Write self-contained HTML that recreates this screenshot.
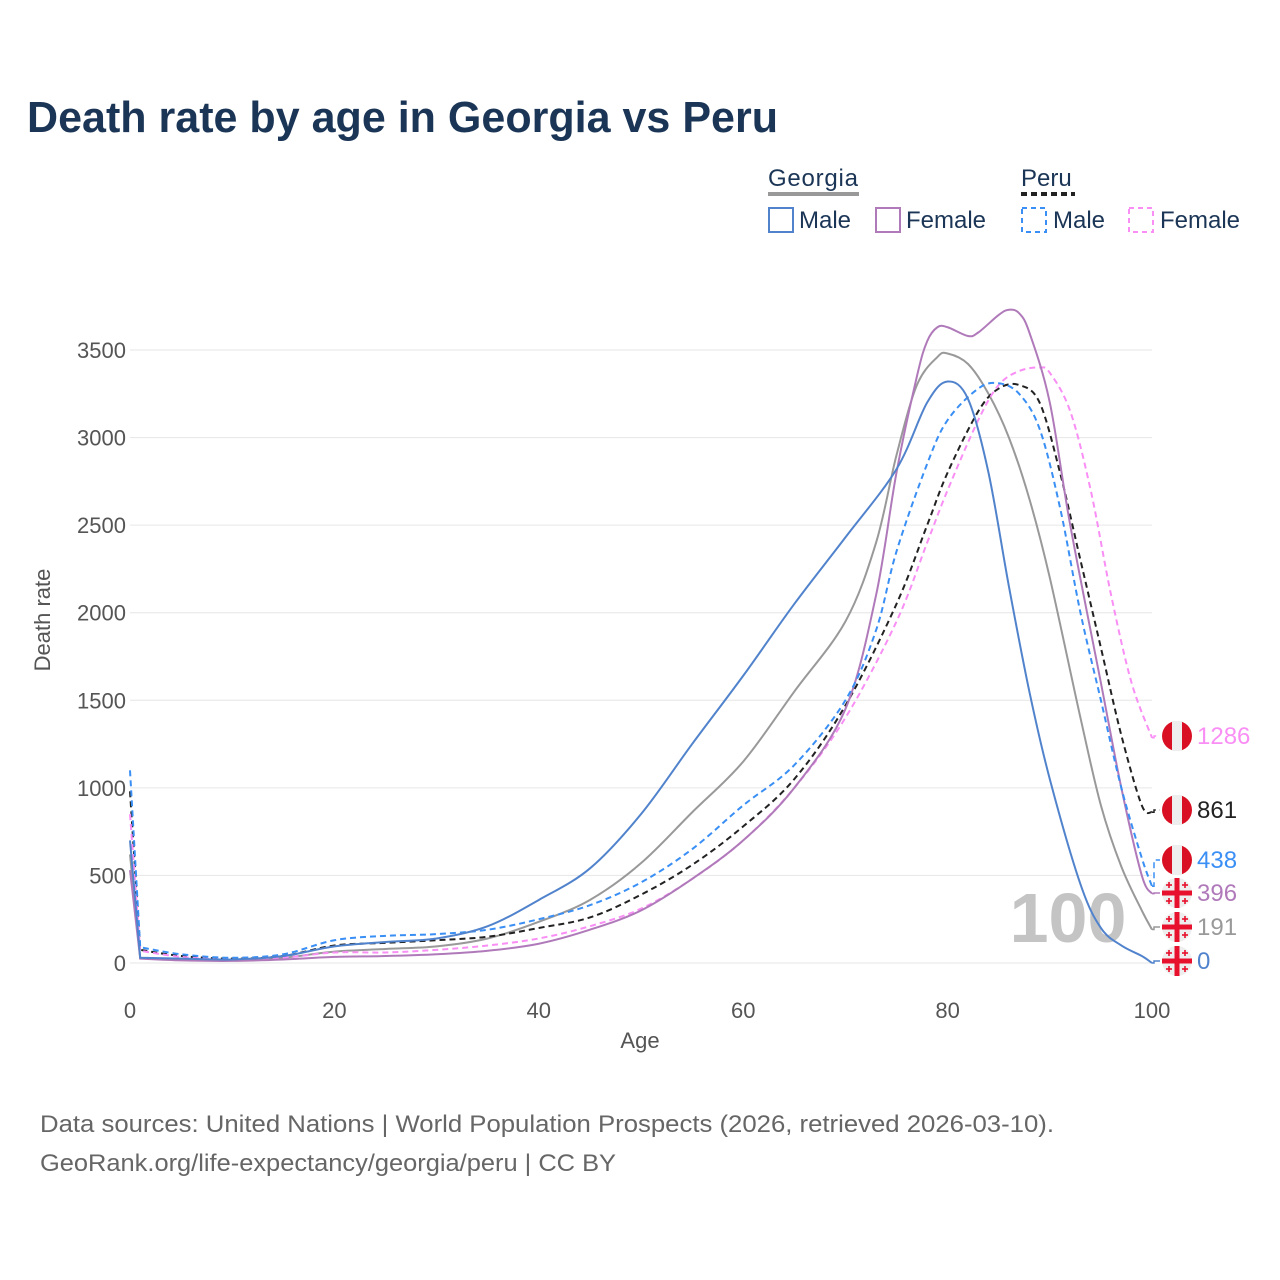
<!DOCTYPE html>
<html><head><meta charset="utf-8">
<style>
body{margin:0;background:#fff;}
svg{display:block;font-family:"Liberation Sans",sans-serif;}
</style></head>
<body>
<svg id="chart" width="1280" height="1280" viewBox="0 0 1280 1280">
<text x="27" y="132" font-size="44" font-weight="bold" fill="#1b3556" textLength="751" lengthAdjust="spacingAndGlyphs">Death rate by age in Georgia vs Peru</text>
<g>
<text x="768" y="186" font-size="24" fill="#1b3556" textLength="90">Georgia</text>
<rect x="768" y="192" width="91" height="4" fill="#999"/>
<text x="1021" y="186" font-size="24" fill="#1b3556">Peru</text>
<line x1="1021" y1="194" x2="1075" y2="194" stroke="#222" stroke-width="4" stroke-dasharray="6,4"/>
<rect x="769" y="208" width="24" height="24" fill="none" stroke="#5183cc" stroke-width="2"/>
<text x="799" y="228" font-size="24" fill="#1b3556">Male</text>
<rect x="876" y="208" width="24" height="24" fill="none" stroke="#b07aba" stroke-width="2"/>
<text x="906" y="228" font-size="24" fill="#1b3556">Female</text>
<rect x="1022" y="208" width="24" height="24" fill="none" stroke="#3a8ff5" stroke-width="2" stroke-dasharray="5,4"/>
<text x="1053" y="228" font-size="24" fill="#1b3556">Male</text>
<rect x="1129" y="208" width="24" height="24" fill="none" stroke="#f98ef5" stroke-width="2" stroke-dasharray="5,4"/>
<text x="1160" y="228" font-size="24" fill="#1b3556">Female</text>
</g>
<g id="grid"></g>
<text x="1068" y="942" font-size="70" font-weight="bold" fill="#c4c4c4" text-anchor="middle">100</text>
<g id="lines"></g>
<g id="labels"></g>
<text x="640" y="1048" font-size="22" fill="#555" text-anchor="middle">Age</text>
<text transform="translate(50,620) rotate(-90)" font-size="22" fill="#555" text-anchor="middle">Death rate</text>
<text x="40" y="1132" font-size="24" fill="#666" textLength="1014" lengthAdjust="spacingAndGlyphs">Data sources: United Nations | World Population Prospects (2026, retrieved 2026-03-10).</text>
<text x="40" y="1171" font-size="24" fill="#666" textLength="576" lengthAdjust="spacingAndGlyphs">GeoRank.org/life-expectancy/georgia/peru | CC BY</text>
</svg>
<script>
const xTicks=[0,20,40,60,80,100];
const yTicks=[0,500,1000,1500,2000,2500,3000,3500];
const gmAges=[0,1,5,10,15,20,25,30,35,40,45,50,55,60,65,70,75,78,80,82,84,86,88,90,93,95,97,99,100];
const gmVals=[700,30,25,20,40,95,120,140,210,360,540,850,1250,1640,2050,2430,2820,3200,3320,3220,2800,2150,1550,1050,450,200,100,40,0];
const gfAges=[0,1,5,10,15,20,25,30,35,40,45,50,55,60,65,70,73,75,77,78,79,80,82,83,85,86,87,88,90,92,95,97,99,100];
const gfVals=[530,25,15,12,20,35,40,50,70,110,190,300,480,700,1000,1450,2100,2800,3350,3550,3630,3630,3580,3600,3700,3730,3710,3600,3200,2500,1600,1000,500,396];
const gtAges=[0,1,5,10,15,20,25,30,35,40,45,50,55,60,65,70,73,75,77,79,80,82,84,86,88,90,93,95,97,99,100];
const gtVals=[620,28,20,15,30,65,80,95,140,235,360,570,860,1150,1550,1950,2400,2900,3300,3460,3480,3420,3250,3000,2650,2200,1400,900,550,300,191];
const pmAges=[0,1,5,10,15,20,25,30,35,40,45,50,55,60,65,70,73,75,78,80,83,85,87,89,91,93,95,97,99,100];
const pmVals=[1100,90,50,30,50,130,155,165,190,250,330,460,650,900,1130,1500,1900,2350,2850,3100,3280,3310,3250,3050,2600,2000,1500,1000,600,438];
const ptAges=[0,1,5,10,15,20,25,30,35,40,45,50,55,60,65,70,75,78,80,83,85,87,89,91,93,95,97,99,100];
const ptVals=[980,75,40,25,40,100,115,130,150,200,260,390,560,780,1050,1470,2050,2500,2800,3150,3280,3300,3200,2800,2300,1800,1300,900,861];
const pfAges=[0,1,5,10,15,20,25,30,35,40,45,50,55,60,65,70,75,78,80,83,85,87,89,90,92,94,96,98,100];
const pfVals=[850,70,35,20,30,60,60,75,100,140,210,310,480,700,1000,1400,1950,2400,2700,3100,3300,3380,3400,3370,3150,2700,2100,1600,1286];
const endLabels=["0","191","396","438","861","1286"];
const NS="http://www.w3.org/2000/svg";
const X=a=>130+a*10.22;
const Y=v=>963-v*0.17514;
function mk(tag,attrs,parent){const e=document.createElementNS(NS,tag);for(const k in attrs)e.setAttribute(k,attrs[k]);parent.appendChild(e);return e;}
const grid=document.getElementById('grid');
yTicks.forEach(t=>{
  const l=mk('line',{x1:130,x2:1152,y1:Y(t),y2:Y(t),stroke:'#e6e6e6','stroke-width':1},grid);
  
  
  const tx=mk('text',{x:126,y:Y(t)+8,'font-size':22,fill:'#555','text-anchor':'end'},grid);
  tx.textContent=t;
  
  
});
xTicks.forEach(t=>{
  const tx=mk('text',{x:X(t),y:1018,'font-size':22,fill:'#555','text-anchor':'middle'},grid);
  tx.textContent=t;
  
  
});
function pathD(ages,vals){
  const p=ages.map((a,i)=>[X(a),Y(vals[i])]);
  let d='M'+p[0][0]+','+p[0][1]+'L'+p[1][0]+','+p[1][1];
  for(let i=1;i<p.length-1;i++){
    const p0=p[i-1<1?1:i-1],p1=p[i],p2=p[i+1],p3=p[i+2]||p2;
    const c1=[p1[0]+(p2[0]-p0[0])/6,p1[1]+(p2[1]-p0[1])/6];
    const c2=[p2[0]-(p3[0]-p1[0])/6,p2[1]-(p3[1]-p1[1])/6];
    d+='C'+c1+' '+c2+' '+p2;
  }
  return d;
}
const series=[
 {a:gtAges,v:gtVals,c:'#999',dash:'',name:'georgia-total-line',ly:927,lab:1},
 {a:ptAges,v:ptVals,c:'#222',dash:'6,4',name:'peru-total-line',ly:810,lab:4},
 {a:pfAges,v:pfVals,c:'#f98ef5',dash:'6,4',name:'peru-female-line',ly:736,lab:5},
 {a:gfAges,v:gfVals,c:'#b07aba',dash:'',name:'georgia-female-line',ly:893,lab:2},
 {a:pmAges,v:pmVals,c:'#3a8ff5',dash:'6,4',name:'peru-male-line',ly:860,lab:3},
 {a:gmAges,v:gmVals,c:'#5183cc',dash:'',name:'georgia-male-line',ly:961,lab:0}
];
const lines=document.getElementById('lines'),labels=document.getElementById('labels');
series.forEach(s=>{
  const p=mk('path',{d:pathD(s.a,s.v),fill:'none',stroke:s.c,'stroke-width':2,'stroke-dasharray':s.dash},lines);
  
  
  const ex=X(s.a[s.a.length-1]),ey=Y(s.v[s.v.length-1]);
  const c=mk('path',{d:`M${ex},${ey}L${ex+2},${ey}L${ex+2},${s.ly}L${ex+8},${s.ly}`,fill:'none',stroke:s.c,'stroke-width':1.5,'stroke-dasharray':s.dash},lines);
  
  
  const cx=1177,cy=s.ly;
  const isPeru=s.name.startsWith('peru');
  const g=mk('g',{},labels);
  
  
  if(isPeru){
    mk('circle',{cx,cy,r:15,fill:'#d91023'},g);
    mk('rect',{x:cx-5,y:cy-15,width:10,height:30,fill:'#eee'},g);
  }else{
    mk('circle',{cx,cy,r:15,fill:'#eee'},g);
    mk('rect',{x:cx-2.5,y:cy-15,width:5,height:30,fill:'#e8112d'},g);
    mk('rect',{x:cx-15,y:cy-2.5,width:30,height:5,fill:'#e8112d'},g);
    [[-8,-8],[8,-8],[-8,8],[8,8]].forEach(o=>{
      mk('rect',{x:cx+o[0]-0.8,y:cy+o[1]-3,width:1.6,height:6,fill:'#e8112d'},g);
      mk('rect',{x:cx+o[0]-3,y:cy+o[1]-0.8,width:6,height:1.6,fill:'#e8112d'},g);
    });
  }
  const t=mk('text',{x:1197,y:cy+8,'font-size':24,fill:s.c},labels);
  t.textContent=endLabels[s.lab];
  
  
});
</script>
</body></html>
